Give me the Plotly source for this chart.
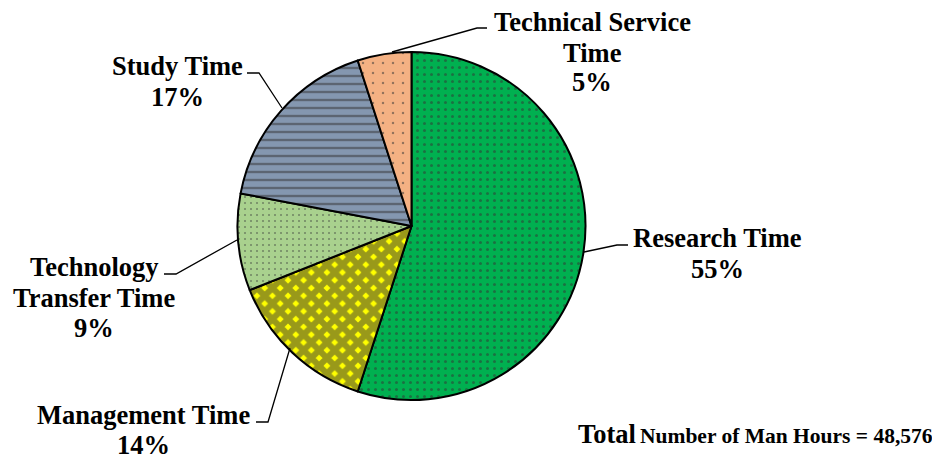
import plotly.graph_objects as go

# ---- data ----
categories = ["Research Time", "Management Time", "Technology Transfer Time", "Study Time", "Technical Service Time"]
label_lines = [["Research Time"], ["Management Time"], ["Technology", "Transfer Time"], ["Study Time"], ["Technical Service", "Time"]]
values = [55, 14, 9, 17, 5]
total_hours = "48,576"

# ---- styles ----
colors = ["#00B050", "#FFFF00", "#A9D18E", "#8497B0", "#F4B183"]
pat_shapes = [".", "x", ".", "-", "."]
pat_sizes = [7, 11, 6, 8, 10]
pat_solid = [0.15, 0.8, 0.09, 0.3, 0.05]
pat_fg = ["#333333", "#333333", "#333333", "#333333", "#333333"]
pat_bg = colors

# page body has an 8px margin: figure is drawn at (8, 8)
OFF = 8
W, H = 940 - OFF, 460 - OFF
FONT = "Liberation Serif, Times New Roman, serif"

def px(x, y):
    """reference-screen pixel -> paper coordinates"""
    return (x - OFF) / W, 1 - (y - OFF) / H

fig = go.Figure()
cx, cy, r = 411.5, 226, 174
x0, y1 = px(cx - r, cy - r)
x1, y0 = px(cx + r, cy + r)

fig.add_trace(go.Pie(
    labels=categories,
    values=values,
    sort=False,
    direction="clockwise",
    rotation=0,
    textinfo="none",
    hoverinfo="skip",
    showlegend=False,
    domain=dict(x=[x0, x1], y=[y0, y1]),
    marker=dict(
        colors=colors,
        line=dict(color="black", width=2),
        pattern=dict(shape=pat_shapes, fgcolor=pat_fg, bgcolor=pat_bg,
                     size=pat_sizes, solidity=pat_solid, fillmode="overlay"),
    ),
))

total = sum(values)
pcts = [f"{round(v * 100 / total)}%" for v in values]

# label center x, line center ys, leader line points
label_pos = [
    (717, [237.5, 268.5], [(584, 252), (617, 245), (628, 245)]),
    (143, [415, 445], [(290, 348), (268, 422), (256, 422)]),
    (94, [267, 298, 328], [(237, 240), (176, 274), (164, 274)]),
    (177, [65.5, 96.5], [(282, 108), (259, 73), (247, 73)]),
    (592, [22, 53, 82.5], [(392, 52), (477, 28), (487, 28)]),
]

for (lx, ys, pts), lines, p in zip(label_pos, label_lines, pcts):
    for txt, ly in zip(lines + [p], ys):
        ax_, ay_ = px(lx, ly)
        fig.add_annotation(
            x=ax_, y=ay_, xref="paper", yref="paper", showarrow=False,
            text=f"<b>{txt}</b>", xanchor="center", yanchor="middle",
            font=dict(family=FONT, size=26.5, color="black"),
        )
    path = ""
    for i, (a, b) in enumerate(pts):
        qx, qy = px(a, b)
        path += ("M" if i == 0 else "L") + f"{qx},{qy} "
    fig.add_shape(type="path", path=path, xref="paper", yref="paper",
                  line=dict(color="black", width=1.3))

fx, fy = px(935, 436)
fig.add_annotation(
    x=fx, y=fy, xref="paper", yref="paper", showarrow=False,
    xanchor="right", yanchor="middle",
    text=f"<b>Number of Man Hours = {total_hours}</b>",
    font=dict(family=FONT, size=21.5, color="black"),
)
tx, ty = px(638, 433.5)
fig.add_annotation(
    x=tx, y=ty, xref="paper", yref="paper", showarrow=False,
    xanchor="right", yanchor="middle",
    text="<b>Total</b>",
    font=dict(family=FONT, size=26.5, color="black"),
)

fig.update_layout(
    width=W, height=H,
    margin=dict(l=0, r=0, t=0, b=0),
    paper_bgcolor="white", plot_bgcolor="white",
)

fig.write_html("out.html")
